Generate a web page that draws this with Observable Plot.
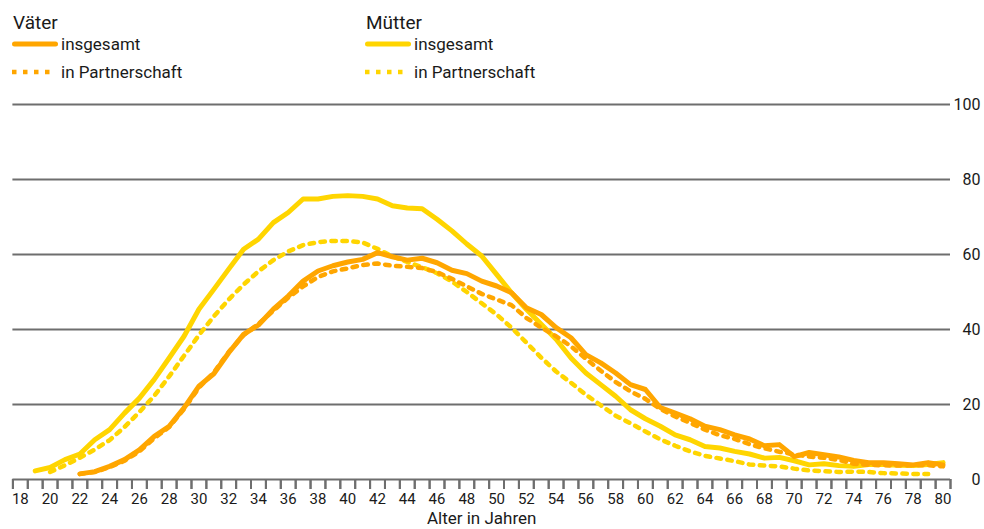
<!DOCTYPE html>
<html>
<head>
<meta charset="utf-8">
<script src="https://cdn.jsdelivr.net/npm/d3@7"></script>
<script src="https://cdn.jsdelivr.net/npm/@observablehq/plot@0.6"></script>
<style>
  html, body { margin: 0; padding: 0; background: #fff; }
  body { width: 984px; height: 529px; overflow: hidden; font-family: Roboto, "DejaVu Sans", sans-serif; color: #1a1a1a; }
  #wrap { position: relative; width: 984px; height: 529px; }
  #legend { position: absolute; left: 0; top: 0; width: 984px; height: 90px; }
  .grp { position: absolute; top: 0; }
  .ttl { position: absolute; top: 11px; font-size: 19px; white-space: nowrap; }
  .item { position: absolute; left: 0; font-size: 17px; white-space: nowrap; }
  .item svg { position: absolute; left: 0; }
  .item span { position: absolute; left: 49px; }
  #chart { position: absolute; left: 0; top: 90px; }
</style>
</head>
<body>
<div id="wrap">
  <div id="legend"></div>
  <div id="chart"></div>
</div>
<script>
// ---- data ----
const fatherStartAge = 22;
const fatherTotal = [1.5, 2.1, 3.5, 5.3, 7.9, 11.5, 14.2, 19.1, 24.9, 28.2, 33.8, 38.7, 41.2, 45.4, 48.9, 52.9, 55.6, 57.0, 58.0, 58.7,
  60.5, 59.4, 58.5, 59.0, 57.8, 55.8, 54.9, 52.9, 51.6, 49.8, 45.8, 44.0, 40.5, 37.8, 33.3, 31.1, 28.4, 25.3, 24.0, 19.2,
  17.7, 16.2, 14.2, 13.3, 11.9, 10.8, 9.0, 9.3, 6.1, 7.2, 6.6, 6.0, 5.1, 4.5, 4.5, 4.2, 3.9, 4.5, 3.9];
const fatherPartnerStartAge = 22;
const fatherPartner = [1.5, 2.0, 3.3, 5.0, 7.5, 11.0, 14.0, 18.8, 24.5, 28.5, 34.0, 38.5, 41.5, 45.0, 48.5, 51.5, 54.0, 55.5, 56.3, 57.2,
  57.6, 57.0, 56.7, 56.4, 55.3, 53.5, 51.5, 49.5, 48.0, 46.5, 43.1, 40.5, 38.2, 35.5, 32.2, 29.0, 26.0, 23.5, 21.5, 18.8,
  16.8, 15.1, 13.3, 11.8, 10.8, 9.4, 8.3, 7.4, 6.7, 6.1, 5.8, 5.2, 4.2, 3.9, 3.8, 3.7, 3.8, 3.8, 3.5];
const motherStartAge = 19;
const motherTotal = [2.3, 3.2, 5.3, 6.8, 10.6, 13.3, 17.7, 21.7, 26.7, 32.4, 38.2, 45.4, 50.7, 56.1, 61.4, 64.1, 68.5, 71.2, 74.8, 74.8,
  75.5, 75.7, 75.5, 74.8, 73.0, 72.4, 72.2, 69.4, 66.3, 62.8, 59.6, 54.7, 49.8, 45.4, 41.4, 37.4, 32.4, 28.4, 25.3, 22.2,
  18.6, 16.2, 14.2, 11.9, 10.6, 8.8, 8.4, 7.5, 6.8, 5.7, 5.9, 5.0, 3.9, 4.2, 3.7, 3.5, 4.0, 4.0, 3.8, 3.7, 4.0, 4.5];
const motherPartnerStartAge = 20;
const motherPartner = [2.0, 3.8, 5.8, 8.0, 10.5, 14.0, 18.0, 22.3, 27.5, 33.0, 38.5, 43.5, 48.0, 52.0, 55.5, 58.5, 60.8, 62.5, 63.3, 63.6,
  63.6, 63.2, 61.5, 59.5, 58.0, 56.6, 55.0, 52.8, 50.0, 47.0, 44.0, 40.5, 36.5, 32.5, 28.8, 25.8, 22.6, 19.8, 17.0, 15.0,
  12.8, 10.7, 9.0, 7.5, 6.3, 5.6, 4.9, 4.0, 3.7, 3.5, 2.9, 2.4, 2.2, 2.0, 2.1, 2.0, 1.7, 1.6, 1.5, 1.5];
const xLabels = [18, 20, 22, 24, 26, 28, 30, 32, 34, 36, 38, 40, 42, 44, 46, 48, 50, 52, 54, 56, 58, 60, 62, 64, 66, 68, 70, 72, 74, 76, 78, 80];
const yTicks = [0, 20, 40, 60, 80, 100];
const groupTitles = ["Väter", "Mütter"];
const seriesLabels = ["insgesamt", "in Partnerschaft"];
const xTitle = "Alter in Jahren";

const ORANGE = "#ffa600";
const YELLOW = "#ffd500";
const GRID = "#6e6e6e";
const DASH = "4.5,6.5";

const toRows = (start, vals) => vals.map((v, i) => ({age: start + i, value: v}));
const fT = toRows(fatherStartAge, fatherTotal);
const fP = toRows(fatherPartnerStartAge, fatherPartner);
const mT = toRows(motherStartAge, motherTotal);
const mP = toRows(motherPartnerStartAge, motherPartner);
const halfTicks = d3.range(17.5, 80.51, 1);

// ---- legend ----
const legend = document.getElementById("legend");
const groups = [{title: groupTitles[0], color: ORANGE, left: 12}, {title: groupTitles[1], color: YELLOW, left: 365}];
for (const g of groups) {
  const div = document.createElement("div");
  div.className = "grp";
  div.style.left = g.left + "px";
  div.innerHTML = `
    <div class="ttl" style="left:1px">${g.title}</div>
    <div class="item" style="top:34px">
      <svg width="46" height="20" style="top:0"><line x1="2.5" y1="10" x2="43.5" y2="10" stroke="${g.color}" stroke-width="5" stroke-linecap="round"/></svg>
      <span style="top:0px">${seriesLabels[0]}</span>
    </div>
    <div class="item" style="top:62px">
      <svg width="46" height="20" style="top:0"><line x1="0" y1="10" x2="44" y2="10" stroke="${g.color}" stroke-width="4.5" stroke-dasharray="${DASH}"/></svg>
      <span style="top:0px">${seriesLabels[1]}</span>
    </div>`;
  legend.appendChild(div);
}

// ---- chart ----
const H = 439, MT = 14, MB = 50, TICK_PX = 10;
const tickLen = TICK_PX / ((H - MT - MB) / 100); // tick length expressed in y units
const chart = Plot.plot({
  width: 984,
  height: H,
  marginTop: MT,
  marginBottom: MB,
  marginLeft: 12.4,
  marginRight: 34,
  style: {fontFamily: "Roboto, 'DejaVu Sans', sans-serif", color: "#1a1a1a"},
  x: {domain: [17.5, 80.5]},
  y: {domain: [0, 100]},
  marks: [
    Plot.ruleY(yTicks, {stroke: GRID, strokeWidth: 2}),
    Plot.axisX({ticks: xLabels, tickSize: 0, tickPadding: 14, fontSize: 15, tickFormat: d => String(d), label: null}),
    Plot.axisY({ticks: yTicks, anchor: "right", tickSize: 0, tickPadding: 0, textAnchor: "end", dx: 30, fontSize: 16, label: null}),
    Plot.text([xTitle], {frameAnchor: "bottom", dy: 44, fontSize: 17, fill: "#1a1a1a"}),
    Plot.line(mP, {x: "age", y: "value", stroke: YELLOW, strokeWidth: 4.5, strokeDasharray: DASH}),
    Plot.line(mT, {x: "age", y: "value", stroke: YELLOW, strokeWidth: 5, strokeLinecap: "round", strokeLinejoin: "round"}),
    Plot.line(fP, {x: "age", y: "value", stroke: ORANGE, strokeWidth: 4.5, strokeDasharray: DASH}),
    Plot.line(fT, {x: "age", y: "value", stroke: ORANGE, strokeWidth: 5, strokeLinecap: "round", strokeLinejoin: "round"}),
    Plot.ruleX(halfTicks, {x: d => d, y1: 0, y2: -tickLen, stroke: GRID, strokeWidth: 2}),
    Plot.axisX({ticks: halfTicks, tickSize: TICK_PX, stroke: GRID, strokeWidth: 2, tickFormat: () => "", label: null})
  ]
});
document.getElementById("chart").appendChild(chart);
</script>
</body>
</html>
